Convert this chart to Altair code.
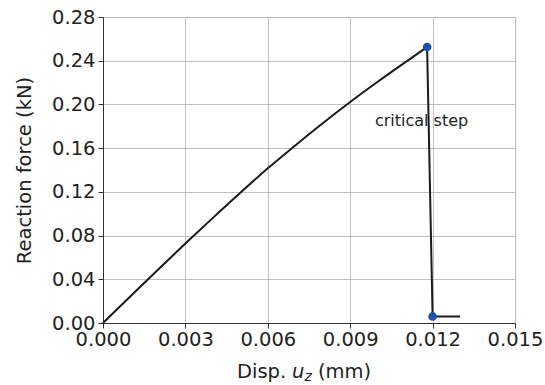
import altair as alt
import pandas as pd

# Load–displacement response of the specimen (loading branch)
disp = [0.0, 0.001, 0.002, 0.003, 0.004, 0.005, 0.006, 0.007, 0.008,
        0.009, 0.010, 0.011, 0.0118]
force = [0.0, 0.0245, 0.0488, 0.0727, 0.0962, 0.1192, 0.1415, 0.1625, 0.1828,
         0.2022, 0.2207, 0.2385, 0.2525]

# Failure: sudden load drop and residual branch
drop_disp = [0.0118, 0.0120, 0.0130]
drop_force = [0.2525, 0.006, 0.006]

# Highlighted states: peak load and post-failure point
mark_disp = [0.0118, 0.0120]
mark_force = [0.2525, 0.006]

# Annotation
note_text = ["critical step"]
note_x = [0.0099]
note_y = [0.185]

x_ticks = [0.0, 0.003, 0.006, 0.009, 0.012, 0.015]
y_ticks = [0.0, 0.04, 0.08, 0.12, 0.16, 0.20, 0.24, 0.28]

FONT = "DejaVu Sans"
FS = 19.5

curve = pd.DataFrame({"disp": disp, "force": force})
drop = pd.DataFrame({"disp": drop_disp, "force": drop_force,
                     "order": range(len(drop_disp))})
pts = pd.DataFrame({"disp": mark_disp, "force": mark_force})
note = pd.DataFrame({"disp": note_x, "force": note_y, "text": note_text})

xs = alt.Scale(domain=[0, 0.015], nice=False, zero=False)
ys = alt.Scale(domain=[0, 0.28], nice=False, zero=False)

x_axis = alt.Axis(values=x_ticks, format=".3f", title=None, grid=True,
                  gridColor="#b0b0b0", gridWidth=0.8, tickSize=5,
                  tickColor="#333", domainColor="#333", labelFontSize=FS,
                  labelFont=FONT, labelColor="#222", labelPadding=2,
                  labelFlush=False, labelOverlap=False)
y_axis = alt.Axis(values=y_ticks, format=".2f", title="Reaction force (kN)",
                  grid=True, gridColor="#b0b0b0", gridWidth=0.8, tickSize=5,
                  tickColor="#333", domainColor="#333", labelFontSize=FS,
                  labelFont=FONT, labelColor="#222", titleFont=FONT,
                  titleFontSize=FS, titleFontWeight="normal",
                  titleColor="#222", titlePadding=17, labelPadding=3,
                  labelFlush=False, labelOverlap=False)

line = alt.Chart(curve).mark_line(color="#1a1a1a", strokeWidth=2,
                                  interpolate="monotone").encode(
    x=alt.X("disp:Q", scale=xs, axis=x_axis),
    y=alt.Y("force:Q", scale=ys, axis=y_axis),
)

drop_line = alt.Chart(drop).mark_line(color="#1a1a1a", strokeWidth=2).encode(
    x=alt.X("disp:Q", scale=xs),
    y=alt.Y("force:Q", scale=ys),
    order="order:Q",
)

dots = alt.Chart(pts).mark_circle(color="#2250a8", opacity=1, size=75).encode(
    x=alt.X("disp:Q", scale=xs),
    y=alt.Y("force:Q", scale=ys),
)

label = alt.Chart(note).mark_text(align="left", baseline="middle",
                                  fontSize=16, font=FONT, color="#222").encode(
    x=alt.X("disp:Q", scale=xs),
    y=alt.Y("force:Q", scale=ys),
    text="text:N",
)

# x-axis title with italic u and subscript z
title_parts = [("Disp.", 134, 355, "normal", FS),
               ("u", 189, 355, "italic", FS),
               ("z", 201.5, 360, "italic", 14),
               ("(mm)", 215, 355, "normal", FS)]
title_layers = []
for txt, px, py, style, fs in title_parts:
    title_layers.append(
        alt.Chart(pd.DataFrame({"t": [txt]})).mark_text(
            align="left", baseline="middle", font=FONT, fontSize=fs,
            fontStyle=style, color="#222").encode(
            x=alt.value(px), y=alt.value(py), text="t:N")
    )

chart = alt.layer(line, drop_line, dots, label, *title_layers).properties(
    width=412, height=306,
    autosize=alt.AutoSizeParams(type="none"),
    padding={"left": 103, "top": 17, "right": 30, "bottom": 62},
).configure_view(stroke="#333", strokeWidth=1).configure(background="white")

chart.save("out.html", embed_options={"renderer": "svg", "actions": False})
